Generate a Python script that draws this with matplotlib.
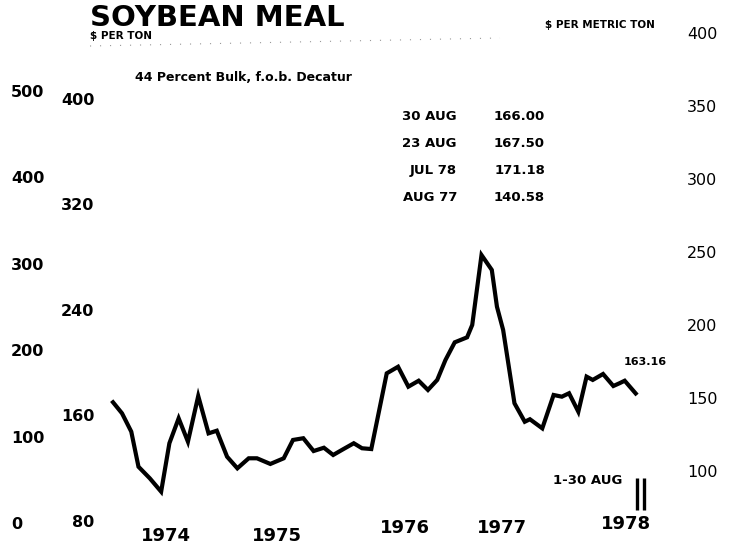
import matplotlib
matplotlib.use("Agg")
import matplotlib.pyplot as plt
import matplotlib.transforms as mtransforms

# monthly soybean meal price, $ per ton (44% bulk, f.o.b. Decatur)
months = [0, 1.0, 1.9, 2.6, 3.7, 4.8, 5.6, 6.5, 7.4, 8.4,
          9.4, 10.2, 11.2, 12.2, 13.3, 14.1, 15.4, 16.7, 17.6, 18.6,
          19.6, 20.6, 21.5, 22.5, 23.5, 24.3, 25.2, 26.7, 27.8, 28.8,
          29.8, 30.7, 31.6, 32.4, 33.3, 34.5, 35.0, 35.9, 36.9, 37.4,
          38.0, 39.1, 40.1, 40.6, 41.8, 42.9, 43.7, 44.4, 45.3, 46.1,
          46.7, 47.7, 48.7, 49.3, 49.8, 51.0]
price = [158.9, 149.3, 135.4, 108.8, 100.0, 89.9, 126.6, 145.5, 127.8, 162.4,
         134.1, 136.1, 116.4, 107.6, 115.2, 115.2, 110.9, 115.2, 129.1, 130.4,
         120.7, 123.2, 117.7, 122.2, 126.6, 122.8, 122.2, 179.6, 184.6, 169.5,
         174.0, 167.0, 174.6, 189.7, 203.1, 206.9, 216.3, 269.3, 258.0, 230.1,
         212.5, 156.9, 142.9, 144.8, 137.9, 163.2, 161.9, 164.5, 150.5, 177.1,
         174.6, 179.1, 170.0, 172.1, 174.0, 163.16]
last_label = "163.16"

years = ["1974", "1975", "1976", "1977", "1978"]
year_pos = [5.3, 16.0, 28.5, 37.9, 49.9]

ton_ticks = [80, 160, 240, 320, 400]
outer_ticks = [0, 100, 200, 300, 400, 500]
metric_ticks = [100, 150, 200, 250, 300, 350, 400]

quote_dates = ["30 AUG", "23 AUG", "JUL 78", "AUG 77"]
quote_prices = ["166.00", "167.50", "171.18", "140.58"]

aug_bars = [51.0, 51.7]

W, H = 736, 548
fig = plt.figure(figsize=(W / 100, H / 100), dpi=100)
fig.patch.set_facecolor("white")

def fx(px):
    return px / W

def fy(py):
    return 1 - py / H

rect = [fx(100), fy(530), fx(580), 500 / H]
ax = fig.add_axes(rect)
ax.set_xlim(-1.136, 55.17)
ax.set_ylim(60.83, 439.9)

ax.plot(months, price, color="black", lw=3.0, solid_joinstyle="miter",
        solid_capstyle="butt")
ax.vlines(aug_bars, 76, 100.3, color="black", lw=2.4)
ax.text(months[-1] - 1.3, price[-1] + 23, last_label, fontsize=8,
        fontweight="bold", family="DejaVu Sans", ha="left", va="baseline")
ax.text(49.6, 95.5, "1-30 AUG", fontsize=9.5, fontweight="bold",
        family="DejaVu Sans", ha="right", va="baseline")

tick_font = dict(family="DejaVu Sans", weight="bold", size=11.5)

# $ per ton scale, labels sit just under their level
ax.set_yticks(ton_ticks)
ax.set_yticklabels([str(t) for t in ton_ticks], **tick_font)
ax.tick_params(axis="y", length=0, pad=4)
shift = mtransforms.ScaledTranslation(0, -0.16, fig.dpi_scale_trans)
for lab in ax.get_yticklabels():
    lab.set_transform(lab.get_transform() + shift)
ax.set_xticks([])
for s in ax.spines.values():
    s.set_visible(False)
ax.patch.set_alpha(0)

for yr, xp, dy in zip(years, year_pos, [-0.012, -0.012, 0.004, 0.004, 0.012]):
    ax.text(xp, dy, yr, transform=ax.get_xaxis_transform(), ha="center",
            va="center", fontsize=13, fontweight="bold", family="DejaVu Sans")

# outer left scale
ax_out = fig.add_axes(rect, frameon=False)
ax_out.set_ylim(-8.1, 570.6)
ax_out.set_xticks([])
ax_out.set_yticks(outer_ticks)
ax_out.set_yticklabels([str(t) for t in outer_ticks], **tick_font)
ax_out.tick_params(axis="y", length=0, pad=64)
for lab in ax_out.get_yticklabels():
    lab.set_horizontalalignment("left")
ax_out.patch.set_alpha(0)

# $ per metric ton scale on the right
ax_r = fig.add_axes(rect, frameon=False)
ax_r.set_ylim(59.6, 402.05)
ax_r.set_xticks([])
ax_r.yaxis.tick_right()
ax_r.set_yticks(metric_ticks)
ax_r.set_yticklabels([str(t) for t in metric_ticks],
                     family="DejaVu Sans", size=11.5)
ax_r.tick_params(axis="y", length=0, pad=27)
for lab in ax_r.get_yticklabels():
    lab.set_horizontalalignment("right")
ax_r.patch.set_alpha(0)

# headings
fig.text(fx(90), fy(26.5), "SOYBEAN MEAL", fontsize=21, fontweight="bold",
         family="DejaVu Sans", va="baseline")
fig.text(fx(90), fy(39), "$ PER TON", fontsize=7.5, fontweight="bold",
         family="DejaVu Sans", va="baseline")
fig.text(fx(545), fy(28), "$ PER METRIC TON", fontsize=7.5, fontweight="bold",
         family="DejaVu Sans", va="baseline")
fig.text(fx(135), fy(81), "44 Percent Bulk, f.o.b. Decatur", fontsize=9,
         fontweight="bold", family="DejaVu Sans", va="baseline")

for i, (d, p) in enumerate(zip(quote_dates, quote_prices)):
    base = 120 + i * 27
    fig.text(fx(457), fy(base), d, fontsize=9.5, fontweight="bold",
             family="DejaVu Sans", ha="right", va="baseline")
    fig.text(fx(545), fy(base), p, fontsize=9.5, fontweight="bold",
             family="DejaVu Sans", ha="right", va="baseline")

# faint rule under the heading
fig.add_artist(plt.Line2D([fx(90), fx(500)], [fy(46), fy(38)], color="0.6",
                          lw=0.8, ls=(0, (1, 8))))

fig.savefig("out.png", dpi=100, facecolor="white")
